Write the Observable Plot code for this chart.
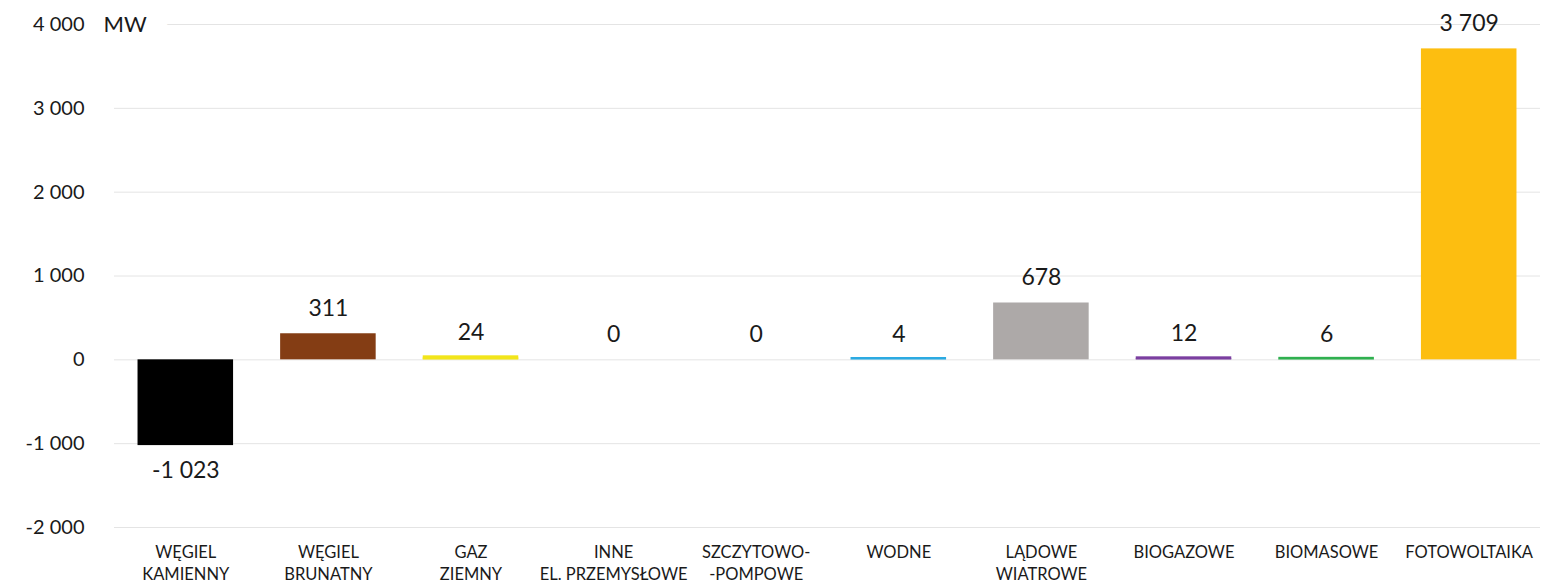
<!DOCTYPE html>
<html>
<head>
<meta charset="utf-8">
<script src="https://cdn.jsdelivr.net/npm/d3@7"></script>
<script src="https://cdn.jsdelivr.net/npm/@observablehq/plot@0.6"></script>
<style>
  html, body { margin: 0; padding: 0; background: #fff; }
  #chart { width: 1551px; height: 584px; }
</style>
</head>
<body>
<div id="chart"></div>
<script>
const categories = [
  "WĘGIEL\nKAMIENNY",
  "WĘGIEL\nBRUNATNY",
  "GAZ\nZIEMNY",
  "INNE\nEL. PRZEMYSŁOWE",
  "SZCZYTOWO-\n-POMPOWE",
  "WODNE",
  "LĄDOWE\nWIATROWE",
  "BIOGAZOWE",
  "BIOMASOWE",
  "FOTOWOLTAIKA"
];
const values = [-1023, 311, 24, 0, 0, 4, 678, 12, 6, 3709];
const colors = ["#000000", "#843D14", "#F2E51A", "#999999", "#999999", "#2BAAE2", "#ADA9A8", "#7B3FA0", "#2FB04F", "#FDBE10"];
const yTicks = [-2000, -1000, 0, 1000, 2000, 3000, 4000];
const unitLabel = "MW";

const data = categories.map((c, i) => ({cat: c, value: values[i], color: colors[i]}));

const locale = d3.formatLocale({decimal: ",", thousands: " ", grouping: [3], currency: ["", ""], minus: "-"});
const fmt = locale.format(",d");

const font = "Lato, 'Noto Sans', sans-serif";

const chart = Plot.plot({
  width: 1551,
  height: 584,
  marginTop: 24,
  marginBottom: 57,
  marginLeft: 114,
  marginRight: 11,
  style: {fontFamily: font, color: "#1a1a1a", background: "#fff"},
  x: {domain: categories, paddingInner: 0.33, paddingOuter: 0.165, round: false, label: null},
  y: {domain: [-2000, 4000], label: null},
  marks: [
    Plot.ruleY(yTicks, {stroke: "#e4e4e4", strokeWidth: 1}),
    Plot.text([unitLabel], {frameAnchor: "top-left", dx: -11, dy: 0, text: d => d, fontSize: 22, fill: "#1a1a1a", stroke: "white", strokeWidth: 44, paintOrder: "stroke", textAnchor: "start", lineAnchor: "middle"}),
    Plot.axisY({ticks: yTicks, tickSize: 0, tickPadding: 30, tickFormat: fmt, fontSize: 20, label: null, fill: "#1a1a1a"}),
    Plot.axisX({tickSize: 0, tickPadding: 15, fontSize: 16.5, lineHeight: 1.33, label: null, fill: "#1a1a1a"}),
    Plot.barY(data.filter(d => d.value !== 0), {x: "cat", y: "value", fill: d => d.color}),
    Plot.barY(data.filter(d => d.value > 0 && d.value < 50), {x: "cat", y1: 0, y2: "value", fill: d => d.color, insetTop: -2}),
    Plot.text(data.filter(d => d.value >= 0), {x: "cat", y: "value", text: d => fmt(d.value), dy: -25, fontSize: 23, fill: "#1a1a1a"}),
    Plot.text(data.filter(d => d.value < 0), {x: "cat", y: "value", text: d => fmt(d.value), dy: 25, fontSize: 23, fill: "#1a1a1a"})
  ]
});
document.getElementById("chart").appendChild(chart);
</script>
</body>
</html>
